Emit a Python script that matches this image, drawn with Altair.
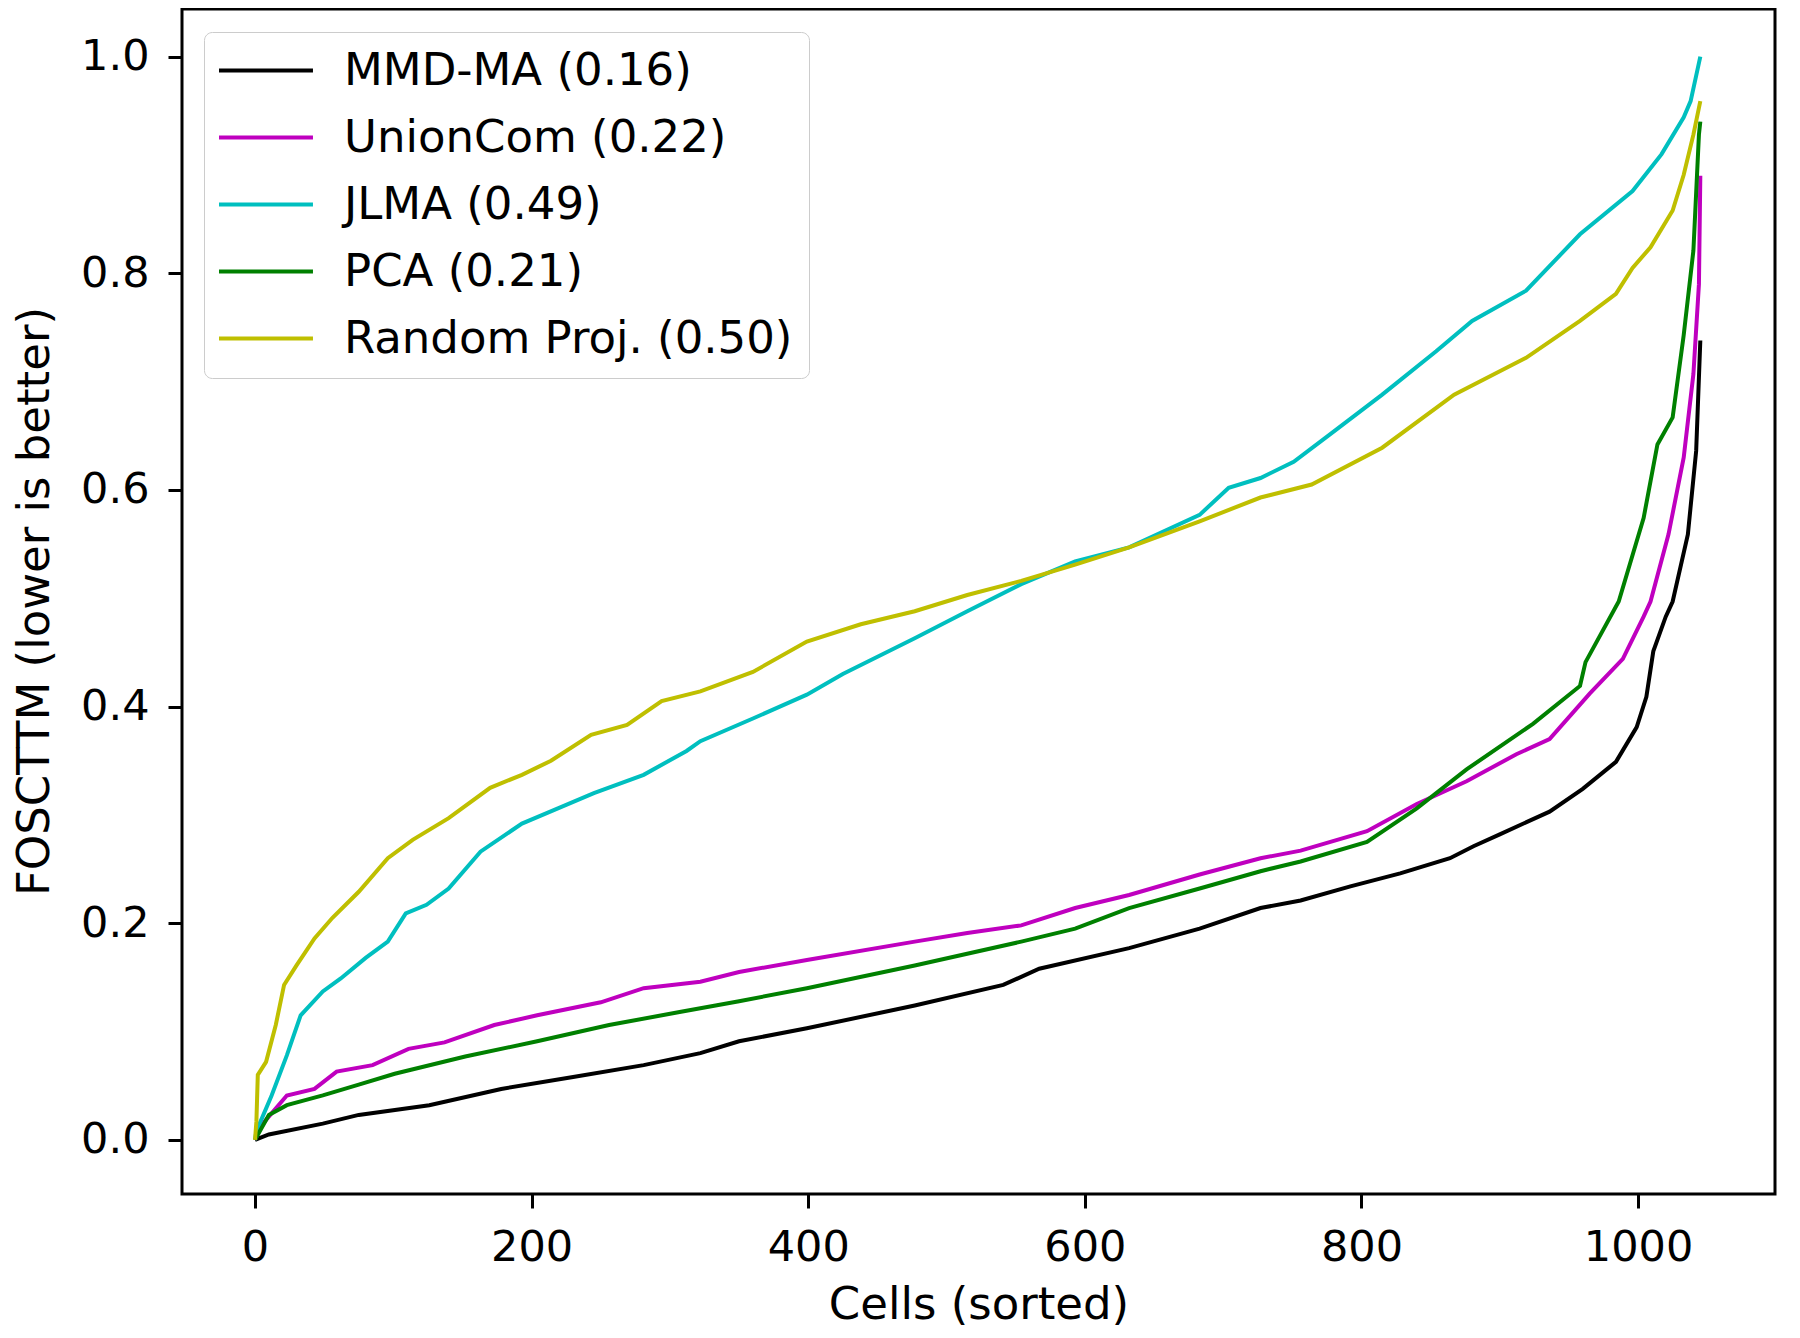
import altair as alt
import pandas as pd

series_names = ["MMD-MA (0.16)", "UnionCom (0.22)", "JLMA (0.49)", "PCA (0.21)", "Random Proj. (0.50)"]
series_colors = ["#000000", "#bf00bf", "#00bfbf", "#008000", "#bfbf00"]

x_ticks = [0, 200, 400, 600, 800, 1000]
y_ticks = [0.0, 0.2, 0.4, 0.6, 0.8, 1.0]

mmdma_x = [0, 10, 49, 75, 126, 178, 230, 281, 322, 350, 399, 477, 541, 567, 632, 683, 727, 756,
           792, 828, 864, 881, 900, 936, 960, 984, 999, 1006, 1011, 1020, 1025, 1036, 1042, 1045]
mmdma_y = [0, 0.005, 0.015, 0.023, 0.032, 0.047, 0.058, 0.069, 0.080, 0.091, 0.103, 0.124, 0.143, 0.158,
           0.177, 0.195, 0.214, 0.221, 0.234, 0.246, 0.260, 0.271, 0.282, 0.303, 0.324, 0.349, 0.381,
           0.409, 0.451, 0.483, 0.497, 0.559, 0.636, 0.738]

unioncom_x = [0, 5, 23, 43, 59, 85, 111, 137, 173, 204, 250, 281, 322, 350, 399, 477, 515, 554, 593,
              632, 683, 727, 756, 804, 840, 876, 912, 936, 965, 989, 1004, 1009, 1022, 1033, 1040, 1044, 1045]
unioncom_y = [0, 0.014, 0.041, 0.047, 0.063, 0.069, 0.084, 0.090, 0.106, 0.115, 0.127, 0.140, 0.146,
              0.155, 0.166, 0.183, 0.191, 0.198, 0.214, 0.226, 0.245, 0.260, 0.267, 0.285, 0.310, 0.331,
              0.356, 0.370, 0.412, 0.444, 0.483, 0.497, 0.559, 0.630, 0.707, 0.790, 0.890]

jlma_x = [0, 1, 12, 23, 33, 49, 62, 80, 96, 109, 124, 140, 163, 193, 219, 245, 281, 312, 322, 360,
          399, 425, 477, 515, 554, 593, 632, 683, 704, 727, 751, 777, 815, 854, 880, 919, 958, 996,
          1017, 1033, 1038, 1045]
jlma_y = [0, 0.008, 0.041, 0.078, 0.115, 0.137, 0.149, 0.168, 0.183, 0.209, 0.217, 0.232, 0.266, 0.292,
          0.306, 0.320, 0.337, 0.359, 0.368, 0.389, 0.411, 0.430, 0.463, 0.488, 0.513, 0.534, 0.547,
          0.577, 0.602, 0.611, 0.626, 0.651, 0.688, 0.728, 0.756, 0.784, 0.836, 0.876, 0.910, 0.944,
          0.959, 1.0]

pca_x = [0, 10, 23, 49, 75, 101, 152, 204, 256, 307, 350, 399, 477, 554, 593, 632, 683, 727, 756, 804,
         840, 876, 924, 958, 962, 986, 1004, 1014, 1025, 1033, 1040, 1044, 1045]
pca_y = [0, 0.023, 0.032, 0.041, 0.051, 0.061, 0.077, 0.091, 0.106, 0.118, 0.128, 0.140, 0.161, 0.183,
         0.195, 0.214, 0.232, 0.248, 0.257, 0.275, 0.306, 0.342, 0.384, 0.419, 0.441, 0.497, 0.574,
         0.642, 0.667, 0.743, 0.821, 0.928, 0.940]

random_x = [0, 1, 2, 8, 15, 21, 30, 43, 56, 75, 96, 114, 140, 170, 193, 214, 243, 269, 294, 322, 360,
            399, 438, 477, 515, 554, 593, 632, 683, 727, 764, 815, 867, 919, 958, 984, 996, 1009, 1025,
            1033, 1040, 1045]
random_y = [0, 0.017, 0.060, 0.072, 0.106, 0.143, 0.161, 0.186, 0.205, 0.229, 0.260, 0.277, 0.297,
            0.325, 0.337, 0.350, 0.374, 0.383, 0.405, 0.414, 0.432, 0.460, 0.476, 0.488, 0.503, 0.516,
            0.531, 0.547, 0.571, 0.593, 0.605, 0.639, 0.688, 0.722, 0.756, 0.781, 0.805, 0.824, 0.858,
            0.891, 0.928, 0.959]

all_x = [mmdma_x, unioncom_x, jlma_x, pca_x, random_x]
all_y = [mmdma_y, unioncom_y, jlma_y, pca_y, random_y]

rows = []
for k, (name, xs, ys) in enumerate(zip(series_names, all_x, all_y)):
    assert len(xs) == len(ys), name
    for xv, yv in zip(xs, ys):
        rows.append({"method": name, "cell": xv, "foscttm": yv, "k": k})
df = pd.DataFrame(rows)

FONT = "DejaVu Sans"

chart = alt.Chart(df).mark_line(strokeWidth=4, clip=True).encode(
    x=alt.X("cell:Q",
            scale=alt.Scale(domain=[-52.8, 1099], nice=False, zero=False),
            axis=alt.Axis(values=x_ticks, format="d", title="Cells (sorted)",
                          labelPadding=18, titleY=124, titleBaseline="alphabetic")),
    y=alt.Y("foscttm:Q",
            scale=alt.Scale(domain=[-0.05, 1.044], nice=False, zero=False),
            axis=alt.Axis(values=y_ticks, format=".1f", title="FOSCTTM (lower is better)",
                          labelPadding=19, titleX=-134, titleY=592, titleAngle=270,
                          titleBaseline="alphabetic", titleAlign="center")),
    color=alt.Color("method:N",
                    scale=alt.Scale(domain=series_names, range=series_colors),
                    legend=alt.Legend(title=None, orient="none", legendX=22, legendY=23,
                                      symbolType="M-1.5,0H4.5", symbolSize=981, symbolStrokeWidth=4,
                                      labelFontSize=45, labelFont=FONT, labelColor="black",
                                      labelLimit=2000, labelOffset=79, padding=16, rowPadding=21,
                                      fillColor="rgba(255,255,255,0.8)", strokeColor="#cccccc",
                                      cornerRadius=8)),
    detail="k:N",
).properties(
    width=1593, height=1185,
    autosize=alt.AutoSizeParams(type="none"),
    padding={"left": 174, "top": 1, "right": 17, "bottom": 136},
).configure_view(
    stroke="black", strokeWidth=3
).configure_axis(
    domain=False, grid=False, tickColor="black", tickWidth=3, tickSize=14,
    labelFont=FONT, labelFontSize=43, labelColor="black",
    titleFont=FONT, titleFontSize=45, titleFontWeight="normal", titleColor="black",
)

chart.save("out.html", embed_options={"renderer": "svg", "actions": False})
